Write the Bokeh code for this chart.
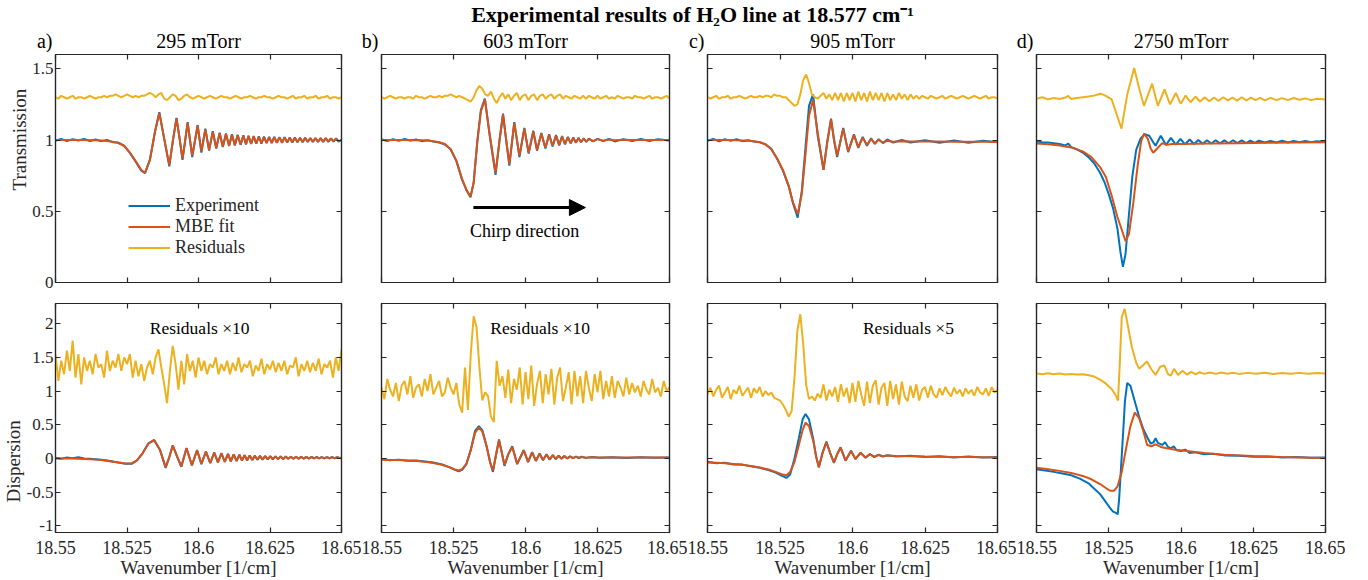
import numpy as np
from bokeh.plotting import figure
from bokeh.models import (Range1d, FixedTicker, LinearAxis, Label, Legend, LegendItem,
                          Arrow, NormalHead, Title)
from bokeh.layouts import column, row
from bokeh.embed import file_html
from bokeh.resources import INLINE

# ---------------- text ----------------
title_text = "Experimental results of H\u2082O line at 18.577 cm\u207B\u00B9"
panel_tags = ["a)", "b)", "c)", "d)"]
pressures = ["295 mTorr", "603 mTorr", "905 mTorr", "2750 mTorr"]
residual_notes = ["Residuals \u00D710", "Residuals \u00D710", "Residuals \u00D75", ""]
series_names = ["Experiment", "MBE fit", "Residuals"]
x_ticks = [18.55, 18.575, 18.6, 18.625, 18.65]
x_tick_labels = ["18.55", "18.525", "18.6", "18.625", "18.65"]
y_ticks_top = [0, 0.5, 1, 1.5]
y_tick_labels_top = ["0", "0.5", "1", "1.5"]
y_ticks_bot = [-1, -0.5, 0, 0.5, 1, 1.5, 2]
y_tick_labels_bot = ["-1", "-0.5", "0", "0.5", "1", "1.5", "2"]

# ---------------- data: uniform wavenumber grid for residuals ----------------
grid = np.linspace(18.55, 18.65, 101)

# ---- panel a (295 mTorr) transmission ----
x_Ta = [18.5500, 18.5520, 18.5540, 18.5560, 18.5580, 18.5600, 18.5620, 18.5640, 18.5660, 18.5680,
        18.5700, 18.5720, 18.5740, 18.5760, 18.5780, 18.5800, 18.5813, 18.5830, 18.5848, 18.5863,
        18.5880, 18.5898, 18.5910, 18.5923, 18.5934, 18.5944, 18.5953, 18.5962, 18.5978, 18.5997,
        18.6010, 18.6024, 18.6037, 18.6050, 18.6062, 18.6074, 18.6085, 18.6096, 18.6107, 18.6117,
        18.6127, 18.6137, 18.6147, 18.6157, 18.6166, 18.6175, 18.6184, 18.6193, 18.6202, 18.6211,
        18.6220, 18.6229, 18.6238, 18.6247, 18.6256, 18.6265, 18.6274, 18.6283, 18.6292, 18.6301,
        18.6310, 18.6319, 18.6328, 18.6337, 18.6346, 18.6355, 18.6364, 18.6373, 18.6382, 18.6391,
        18.6400, 18.6409, 18.6418, 18.6427, 18.6436, 18.6445, 18.6454, 18.6463, 18.6472, 18.6481,
        18.6490, 18.6500]
fit_Ta = [1.000, 1.000, 1.000, 1.000, 1.000, 1.000, 0.999, 0.998, 0.996, 0.993,
          0.988, 0.978, 0.958, 0.912, 0.852, 0.790, 0.770, 0.860, 1.060, 1.190,
          1.010, 0.825, 0.990, 1.150, 1.010, 0.870, 0.990, 1.120, 0.890, 1.100,
          0.920, 1.075, 0.930, 1.058, 0.945, 1.048, 0.955, 1.042, 0.960, 1.037,
          0.965, 1.033, 0.968, 1.030, 0.972, 1.028, 0.974, 1.025, 0.976, 1.023,
          0.978, 1.022, 0.980, 1.020, 0.981, 1.019, 0.982, 1.018, 0.983, 1.017,
          0.984, 1.016, 0.985, 1.015, 0.986, 1.014, 0.987, 1.013, 0.988, 1.012,
          0.988, 1.012, 0.989, 1.011, 0.989, 1.011, 0.990, 1.010, 0.990, 1.010,
          0.990, 1.000]
exp_Ta = [0.995, 1.008, 0.992, 1.006, 0.996, 1.008, 0.993, 1.004, 0.992, 1.000,
          0.985, 0.982, 0.960, 0.910, 0.850, 0.785, 0.768, 0.860, 1.060, 1.195,
          1.010, 0.815, 0.990, 1.155, 1.010, 0.860, 0.990, 1.125, 0.880, 1.105,
          0.912, 1.080, 0.925, 1.062, 0.940, 1.052, 0.950, 1.045, 0.957, 1.040,
          0.962, 1.036, 0.966, 1.033, 0.968, 1.030, 0.972, 1.028, 0.974, 1.026,
          0.975, 1.024, 0.978, 1.022, 0.979, 1.022, 0.980, 1.020, 0.981, 1.019,
          0.982, 1.018, 0.983, 1.017, 0.984, 1.016, 0.985, 1.015, 0.986, 1.014,
          0.986, 1.014, 0.986, 1.013, 0.987, 1.013, 0.987, 1.012, 0.988, 1.012,
          0.988, 1.000]
res_Ta = [1.30, 1.29, 1.31, 1.30, 1.29, 1.30, 1.31, 1.29, 1.30, 1.30,
          1.29, 1.30, 1.31, 1.30, 1.29, 1.30, 1.30, 1.31, 1.30, 1.31,
          1.31, 1.32, 1.31, 1.30, 1.31, 1.32, 1.31, 1.30, 1.31, 1.30,
          1.31, 1.31, 1.32, 1.33, 1.32, 1.30, 1.32, 1.33, 1.29, 1.28,
          1.30, 1.32, 1.31, 1.28, 1.29, 1.31, 1.32, 1.30, 1.29, 1.30,
          1.31, 1.30, 1.29, 1.30, 1.31, 1.30, 1.29, 1.30, 1.31, 1.30,
          1.30, 1.29, 1.30, 1.31, 1.30, 1.29, 1.30, 1.30, 1.31, 1.30,
          1.29, 1.30, 1.30, 1.31, 1.30, 1.30, 1.29, 1.30, 1.31, 1.30,
          1.30, 1.29, 1.30, 1.31, 1.29, 1.30, 1.30, 1.31, 1.29, 1.30,
          1.30, 1.31, 1.29, 1.30, 1.30, 1.31, 1.29, 1.30, 1.30, 1.29, 1.30]

# ---- panel a dispersion ----
x_Da = [18.5500, 18.5520, 18.5540, 18.5560, 18.5580, 18.5600, 18.5620, 18.5640, 18.5660, 18.5680,
        18.5700, 18.5720, 18.5745, 18.5766, 18.5785, 18.5805, 18.5825, 18.5845, 18.5865, 18.5885,
        18.5898, 18.5910, 18.5925, 18.5940, 18.5958, 18.5977, 18.5995, 18.6010, 18.6026, 18.6041,
        18.6055, 18.6068, 18.6080, 18.6092, 18.6103, 18.6113, 18.6123, 18.6133, 18.6143, 18.6152,
        18.6161, 18.6170, 18.6179, 18.6188, 18.6197, 18.6206, 18.6215, 18.6224, 18.6233, 18.6242,
        18.6251, 18.6260, 18.6269, 18.6278, 18.6287, 18.6296, 18.6305, 18.6314, 18.6323, 18.6332,
        18.6341, 18.6350, 18.6359, 18.6368, 18.6377, 18.6386, 18.6395, 18.6404, 18.6413, 18.6422,
        18.6431, 18.6440, 18.6449, 18.6458, 18.6467, 18.6476, 18.6485, 18.6494, 18.6500]
fit_Da = [0.000, 0.000, 0.000, -0.002, -0.004, -0.008, -0.012, -0.018, -0.025, -0.035,
          -0.048, -0.062, -0.075, -0.075, -0.030, 0.080, 0.220, 0.270, 0.130, -0.130,
          0.020, 0.190, 0.030, -0.120, 0.150, -0.100, 0.120, -0.080, 0.100, -0.068,
          0.085, -0.058, 0.075, -0.050, 0.066, -0.043, 0.058, -0.037, 0.052, -0.031,
          0.047, -0.027, 0.043, -0.023, 0.039, -0.019, 0.036, -0.016, 0.033, -0.013,
          0.031, -0.011, 0.029, -0.009, 0.027, -0.007, 0.026, -0.005, 0.025, -0.004,
          0.024, -0.003, 0.023, -0.002, 0.022, -0.001, 0.021, 0.000, 0.020, 0.001,
          0.019, 0.002, 0.019, 0.003, 0.018, 0.004, 0.017, 0.005, 0.010]
exp_Da = [0.010, -0.005, 0.012, 0.004, 0.018, 0.000, -0.004, -0.012, -0.020, -0.030,
          -0.045, -0.060, -0.078, -0.080, -0.030, 0.080, 0.225, 0.275, 0.130, -0.140,
          0.020, 0.195, 0.030, -0.125, 0.155, -0.105, 0.125, -0.085, 0.102, -0.070,
          0.088, -0.060, 0.078, -0.052, 0.068, -0.045, 0.060, -0.040, 0.054, -0.033,
          0.048, -0.028, 0.044, -0.024, 0.040, -0.020, 0.037, -0.017, 0.034, -0.014,
          0.032, -0.012, 0.030, -0.010, 0.028, -0.008, 0.027, -0.006, 0.026, -0.005,
          0.025, -0.004, 0.024, -0.003, 0.023, -0.002, 0.022, -0.001, 0.021, 0.000,
          0.020, 0.001, 0.020, 0.002, 0.019, 0.003, 0.018, 0.004, 0.012]
res_Da = [1.55, 1.15, 1.45, 1.25, 1.60, 1.30, 1.75, 1.20, 1.55, 1.10,
          1.50, 1.30, 1.45, 1.25, 1.55, 1.35, 1.40, 1.20, 1.60, 1.30,
          1.45, 1.35, 1.55, 1.30, 1.50, 1.40, 1.55, 1.20, 1.45, 1.22,
          1.40, 1.15, 1.35, 1.45, 1.25, 1.50, 1.62, 1.35, 1.10, 0.82,
          1.30, 1.67, 1.40, 1.02, 1.45, 1.10, 1.55, 1.30, 1.45, 1.20,
          1.50, 1.30, 1.45, 1.25, 1.40, 1.35, 1.50, 1.25, 1.40, 1.30,
          1.45, 1.25, 1.42, 1.30, 1.50, 1.28, 1.40, 1.35, 1.45, 1.22,
          1.38, 1.30, 1.48, 1.25, 1.40, 1.32, 1.45, 1.28, 1.42, 1.30,
          1.45, 1.25, 1.38, 1.35, 1.50, 1.22, 1.40, 1.30, 1.45, 1.28,
          1.42, 1.30, 1.48, 1.25, 1.40, 1.35, 1.45, 1.20, 1.50, 1.30, 1.62]

# ---- panel b (603 mTorr) transmission ----
x_Tb = [18.5500, 18.5520, 18.5540, 18.5560, 18.5580, 18.5600, 18.5620, 18.5640, 18.5660, 18.5680,
        18.5700, 18.5720, 18.5740, 18.5760, 18.5780, 18.5795, 18.5809, 18.5820, 18.5833, 18.5845,
        18.5859, 18.5875, 18.5896, 18.5910, 18.5922, 18.5933, 18.5944, 18.5961, 18.5979, 18.5996,
        18.6011, 18.6027, 18.6040, 18.6055, 18.6069, 18.6082, 18.6094, 18.6106, 18.6117, 18.6127,
        18.6137, 18.6147, 18.6157, 18.6166, 18.6175, 18.6184, 18.6193, 18.6202, 18.6211, 18.6220,
        18.6235, 18.6250, 18.6270, 18.6290, 18.6310, 18.6340, 18.6370, 18.6400, 18.6430, 18.6460,
        18.6500]
fit_Tb = [1.000, 1.000, 1.000, 1.000, 1.000, 0.999, 0.999, 0.998, 0.997, 0.992,
          0.985, 0.972, 0.935, 0.855, 0.725, 0.650, 0.603, 0.700, 0.990, 1.200,
          1.285, 1.050, 0.770, 1.000, 1.180, 1.000, 0.830, 1.120, 0.890, 1.080,
          0.910, 1.060, 0.930, 1.045, 0.945, 1.036, 0.958, 1.030, 0.966, 1.024,
          0.972, 1.019, 0.978, 1.015, 0.983, 1.012, 0.986, 1.010, 0.989, 1.008,
          0.992, 1.006, 0.995, 1.003, 0.998, 1.001, 1.000, 1.000, 1.000, 1.000,
          1.000]
exp_Tb = [1.005, 0.992, 1.006, 0.994, 1.008, 0.996, 1.004, 0.992, 0.999, 0.990,
          0.982, 0.968, 0.935, 0.852, 0.720, 0.648, 0.598, 0.700, 1.000, 1.210,
          1.290, 1.040, 0.755, 1.000, 1.185, 0.995, 0.820, 1.125, 0.880, 1.085,
          0.905, 1.065, 0.925, 1.050, 0.940, 1.040, 0.955, 1.034, 0.962, 1.028,
          0.970, 1.022, 0.976, 1.018, 0.980, 1.015, 0.984, 1.012, 0.986, 1.010,
          0.990, 1.008, 0.992, 1.008, 0.990, 1.006, 0.992, 1.007, 0.993, 1.006,
          0.996]
res_Tb = [1.30, 1.29, 1.30, 1.31, 1.30, 1.29, 1.30, 1.30, 1.29, 1.30,
          1.30, 1.29, 1.31, 1.30, 1.30, 1.29, 1.30, 1.31, 1.30, 1.30,
          1.31, 1.30, 1.31, 1.31, 1.32, 1.31, 1.30, 1.31, 1.30, 1.29,
          1.28, 1.27, 1.30, 1.35, 1.38, 1.36, 1.32, 1.31, 1.34, 1.29,
          1.26, 1.30, 1.33, 1.29, 1.32, 1.28, 1.31, 1.33, 1.28, 1.31,
          1.32, 1.28, 1.31, 1.32, 1.28, 1.31, 1.32, 1.29, 1.31, 1.32,
          1.29, 1.31, 1.32, 1.29, 1.31, 1.30, 1.29, 1.31, 1.30, 1.29,
          1.31, 1.29, 1.31, 1.30, 1.29, 1.31, 1.29, 1.30, 1.31, 1.29,
          1.30, 1.29, 1.31, 1.30, 1.29, 1.30, 1.30, 1.29, 1.31, 1.30,
          1.30, 1.29, 1.30, 1.31, 1.29, 1.30, 1.30, 1.29, 1.30, 1.31, 1.29]

# ---- panel b dispersion ----
x_Db = [18.5500, 18.5530, 18.5560, 18.5590, 18.5620, 18.5650, 18.5680, 18.5710, 18.5735, 18.5755,
        18.5768, 18.5780, 18.5795, 18.5810, 18.5825, 18.5838, 18.5850, 18.5865, 18.5877, 18.5887,
        18.5897, 18.5908, 18.5918, 18.5927, 18.5940, 18.5954, 18.5971, 18.5994, 18.6009, 18.6023,
        18.6036, 18.6049, 18.6061, 18.6073, 18.6084, 18.6095, 18.6105, 18.6115, 18.6125, 18.6135,
        18.6145, 18.6155, 18.6165, 18.6175, 18.6185, 18.6195, 18.6210, 18.6230, 18.6260, 18.6300,
        18.6350, 18.6400, 18.6450, 18.6500]
fit_Db = [-0.020, -0.022, -0.025, -0.030, -0.038, -0.050, -0.068, -0.095, -0.130, -0.165,
          -0.180, -0.160, -0.080, 0.120, 0.380, 0.460, 0.400, 0.180, -0.050, -0.180,
          0.040, 0.270, 0.080, -0.100, 0.060, 0.170, -0.080, 0.120, -0.050, 0.090,
          -0.035, 0.070, -0.025, 0.058, -0.015, 0.048, -0.008, 0.040, -0.003, 0.034,
          0.002, 0.028, 0.005, 0.024, 0.008, 0.020, 0.010, 0.016, 0.012, 0.013,
          0.012, 0.012, 0.012, 0.012]
exp_Db = [-0.010, -0.028, -0.018, -0.035, -0.030, -0.045, -0.062, -0.090, -0.130, -0.170,
          -0.190, -0.170, -0.080, 0.130, 0.410, 0.480, 0.420, 0.180, -0.060, -0.200,
          0.040, 0.280, 0.080, -0.110, 0.060, 0.180, -0.085, 0.125, -0.055, 0.095,
          -0.038, 0.072, -0.028, 0.060, -0.018, 0.050, -0.010, 0.042, -0.005, 0.036,
          0.000, 0.030, 0.004, 0.026, 0.006, 0.024, 0.008, 0.020, 0.008, 0.018,
          0.006, 0.016, 0.008, 0.014]
res_Db = [1.05, 0.88, 1.18, 1.02, 0.92, 1.12, 0.85, 1.08, 1.15, 0.95,
          1.22, 0.90, 1.05, 1.10, 0.92, 1.18, 1.00, 1.25, 0.95, 1.05,
          1.15, 0.92, 0.98, 1.20, 1.05, 0.95, 1.12, 0.80, 0.68, 1.35,
          0.72, 1.55, 2.11, 1.95, 1.35, 0.86, 0.98, 0.92, 0.62, 0.54,
          1.45, 1.08, 1.22, 0.90, 1.32, 0.82, 1.18, 1.02, 1.35, 0.80,
          1.28, 0.88, 1.38, 0.78, 1.10, 1.30, 0.82, 1.25, 0.95, 1.33,
          0.80, 1.20, 1.35, 0.85, 1.05, 1.28, 0.80, 1.30, 0.92, 1.22,
          0.82, 1.30, 1.05, 0.85, 1.25, 0.98, 1.30, 0.88, 1.15, 0.92,
          1.22, 0.90, 1.15, 1.05, 0.92, 1.20, 0.95, 1.12, 0.98, 1.08,
          0.92, 1.15, 1.02, 0.95, 1.18, 0.98, 1.05, 0.92, 1.15, 1.00, 1.05]

# ---- panel c (905 mTorr) transmission ----
x_Tc = [18.5500, 18.5520, 18.5540, 18.5560, 18.5580, 18.5600, 18.5620, 18.5640, 18.5660, 18.5680,
        18.5700, 18.5720, 18.5740, 18.5760, 18.5780, 18.5795, 18.5811, 18.5825, 18.5838, 18.5850,
        18.5864, 18.5880, 18.5900, 18.5913, 18.5926, 18.5936, 18.5947, 18.5968, 18.5985, 18.6005,
        18.6020, 18.6035, 18.6050, 18.6064, 18.6077, 18.6090, 18.6105, 18.6120, 18.6140, 18.6170,
        18.6200, 18.6250, 18.6300, 18.6350, 18.6400, 18.6450, 18.6500]
fit_Tc = [1.000, 1.000, 1.000, 1.000, 1.000, 0.998, 0.997, 0.995, 0.992, 0.985,
          0.968, 0.935, 0.870, 0.790, 0.680, 0.560, 0.480, 0.620, 0.900, 1.170,
          1.280, 1.050, 0.790, 0.980, 1.145, 1.010, 0.890, 1.080, 0.920, 1.035,
          0.950, 1.016, 0.965, 1.008, 0.975, 1.002, 0.982, 0.995, 0.988, 0.991,
          0.990, 0.990, 0.989, 0.988, 0.987, 0.987, 0.986]
exp_Tc = [0.995, 1.008, 0.990, 1.006, 0.994, 1.006, 0.992, 0.998, 0.990, 0.984,
          0.970, 0.938, 0.868, 0.785, 0.675, 0.555, 0.455, 0.640, 0.950, 1.240,
          1.320, 1.030, 0.790, 0.990, 1.150, 1.000, 0.880, 1.085, 0.915, 1.040,
          0.945, 1.022, 0.960, 1.012, 0.972, 1.006, 0.978, 1.004, 0.982, 1.000,
          0.982, 0.998, 0.980, 0.996, 0.980, 0.994, 0.984]
res_Tc = [1.30, 1.29, 1.30, 1.31, 1.29, 1.30, 1.30, 1.31, 1.29, 1.30,
          1.30, 1.31, 1.30, 1.29, 1.30, 1.31, 1.30, 1.30, 1.31, 1.30,
          1.31, 1.31, 1.30, 1.32, 1.31, 1.31, 1.30, 1.30, 1.28, 1.26,
          1.24, 1.25, 1.32, 1.42, 1.46, 1.40, 1.32, 1.30, 1.29, 1.31,
          1.33, 1.29, 1.32, 1.28, 1.33, 1.28, 1.33, 1.27, 1.33, 1.28,
          1.33, 1.27, 1.34, 1.28, 1.33, 1.27, 1.34, 1.28, 1.33, 1.28,
          1.33, 1.27, 1.33, 1.28, 1.32, 1.28, 1.33, 1.29, 1.32, 1.28,
          1.32, 1.29, 1.31, 1.29, 1.31, 1.30, 1.29, 1.31, 1.30, 1.29,
          1.30, 1.31, 1.29, 1.30, 1.31, 1.30, 1.29, 1.30, 1.31, 1.30,
          1.29, 1.30, 1.31, 1.30, 1.29, 1.30, 1.31, 1.29, 1.30, 1.30, 1.29]

# ---- panel c dispersion ----
x_Dc = [18.5500, 18.5530, 18.5560, 18.5590, 18.5620, 18.5650, 18.5680, 18.5710, 18.5735, 18.5755,
        18.5772, 18.5785, 18.5800, 18.5815, 18.5828, 18.5838, 18.5850, 18.5865, 18.5875, 18.5884,
        18.5897, 18.5910, 18.5923, 18.5936, 18.5948, 18.5959, 18.5976, 18.5995, 18.6010, 18.6028,
        18.6045, 18.6060, 18.6075, 18.6090, 18.6105, 18.6120, 18.6150, 18.6200, 18.6250, 18.6300,
        18.6350, 18.6400, 18.6450, 18.6500]
fit_Dc = [-0.060, -0.065, -0.072, -0.082, -0.095, -0.112, -0.135, -0.165, -0.200, -0.235,
          -0.250, -0.200, -0.050, 0.200, 0.420, 0.530, 0.480, 0.250, 0.020, -0.130,
          0.080, 0.240, 0.080, -0.060, 0.070, 0.160, -0.030, 0.110, -0.005, 0.080,
          0.015, 0.060, 0.025, 0.050, 0.030, 0.042, 0.035, 0.032, 0.028, 0.025,
          0.022, 0.020, 0.018, 0.015]
exp_Dc = [-0.050, -0.072, -0.066, -0.090, -0.092, -0.118, -0.140, -0.172, -0.210, -0.255,
          -0.290, -0.240, 0.000, 0.300, 0.580, 0.660, 0.580, 0.280, 0.020, -0.130,
          0.090, 0.250, 0.080, -0.065, 0.070, 0.165, -0.035, 0.115, -0.010, 0.085,
          0.010, 0.065, 0.020, 0.055, 0.028, 0.048, 0.028, 0.040, 0.022, 0.032,
          0.015, 0.028, 0.012, 0.020]
res_Dc = [0.95, 1.05, 0.92, 1.02, 1.08, 0.90, 0.98, 1.06, 0.88, 1.02,
          0.96, 1.08, 0.93, 0.99, 1.05, 0.90, 1.04, 0.97, 1.06, 0.92,
          1.00, 0.94, 0.98, 0.90, 0.88, 0.86, 0.80, 0.72, 0.62, 0.70,
          1.20, 1.90, 2.14, 1.70, 1.10, 0.88, 0.92, 0.86, 0.96, 0.90,
          1.10, 0.86, 1.02, 0.92, 1.06, 0.84, 1.10, 0.92, 1.05, 0.82,
          1.12, 0.84, 1.15, 0.95, 0.78, 1.14, 0.82, 1.08, 1.16, 0.80,
          1.05, 1.12, 0.78, 1.15, 0.88, 1.10, 0.80, 1.14, 0.92, 0.85,
          1.08, 0.90, 1.10, 0.86, 1.02, 1.06, 0.90, 1.08, 0.95, 0.90,
          1.04, 0.94, 1.06, 0.98, 0.92, 1.05, 0.96, 1.02, 0.92, 1.04,
          0.96, 1.02, 0.93, 1.06, 0.98, 0.95, 1.04, 0.93, 1.06, 0.98, 1.02]

# ---- panel d (2750 mTorr) transmission ----
x_Td_exp = [18.5500, 18.5520, 18.5540, 18.5560, 18.5580, 18.5600, 18.5610, 18.5620, 18.5640, 18.5660,
            18.5680, 18.5700, 18.5720, 18.5735, 18.5750, 18.5765, 18.5780, 18.5790, 18.5799, 18.5808,
            18.5820, 18.5832, 18.5845, 18.5860, 18.5875, 18.5890, 18.5905, 18.5912, 18.5930, 18.5948,
            18.5965, 18.5982, 18.5998, 18.6014, 18.6030, 18.6045, 18.6060, 18.6075, 18.6090, 18.6105,
            18.6120, 18.6135, 18.6150, 18.6165, 18.6180, 18.6195, 18.6210, 18.6225, 18.6240, 18.6255,
            18.6270, 18.6290, 18.6310, 18.6330, 18.6350, 18.6370, 18.6390, 18.6410, 18.6430, 18.6450,
            18.6470, 18.6500]
exp_Td = [0.990, 0.985, 0.982, 0.978, 0.972, 0.962, 0.975, 0.950, 0.935, 0.912,
          0.880, 0.835, 0.770, 0.705, 0.620, 0.520, 0.380, 0.220, 0.110, 0.200,
          0.480, 0.750, 0.930, 1.010, 1.040, 1.030, 0.980, 0.960, 1.030, 0.965,
          1.015, 0.968, 1.008, 0.970, 1.003, 0.972, 1.000, 0.973, 0.998, 0.975,
          0.998, 0.976, 0.997, 0.977, 0.998, 0.978, 0.997, 0.978, 0.996, 0.980,
          0.995, 0.982, 0.994, 0.982, 0.995, 0.983, 0.993, 0.984, 0.994, 0.985,
          0.992, 0.986]
x_Td_fit = [18.5500, 18.5540, 18.5580, 18.5620, 18.5660, 18.5690, 18.5720, 18.5740, 18.5760, 18.5780,
            18.5795, 18.5808, 18.5820, 18.5835, 18.5850, 18.5862, 18.5872, 18.5885, 18.5895, 18.5904,
            18.5915, 18.5935, 18.5950, 18.5970, 18.6000, 18.6100, 18.6200, 18.6300, 18.6400, 18.6500]
fit_Td = [0.975, 0.970, 0.962, 0.948, 0.920, 0.880, 0.810, 0.740, 0.610, 0.460,
          0.370, 0.290, 0.340, 0.560, 0.820, 0.990, 1.045, 1.010, 0.940, 0.910,
          0.935, 0.978, 0.966, 0.972, 0.972, 0.975, 0.978, 0.980, 0.982, 0.984]
x_Rd_top = [18.5500, 18.5520, 18.5540, 18.5560, 18.5580, 18.5600, 18.5610, 18.5620, 18.5640, 18.5660,
            18.5680, 18.5700, 18.5722, 18.5740, 18.5760, 18.5779, 18.5794, 18.5814, 18.5838, 18.5858,
            18.5872, 18.5900, 18.5920, 18.5943, 18.5962, 18.5982, 18.5999, 18.6016, 18.6033, 18.6050,
            18.6066, 18.6082, 18.6098, 18.6114, 18.6130, 18.6146, 18.6162, 18.6178, 18.6194, 18.6210,
            18.6226, 18.6242, 18.6258, 18.6274, 18.6290, 18.6310, 18.6330, 18.6350, 18.6370, 18.6390,
            18.6410, 18.6430, 18.6450, 18.6470, 18.6500]
res_Td = [1.290, 1.300, 1.285, 1.295, 1.288, 1.298, 1.310, 1.288, 1.295, 1.300,
          1.305, 1.312, 1.325, 1.310, 1.285, 1.170, 1.080, 1.320, 1.505, 1.340,
          1.240, 1.395, 1.240, 1.355, 1.250, 1.330, 1.255, 1.312, 1.265, 1.305,
          1.270, 1.300, 1.272, 1.298, 1.275, 1.300, 1.278, 1.298, 1.276, 1.300,
          1.278, 1.298, 1.280, 1.296, 1.278, 1.296, 1.280, 1.294, 1.280, 1.295,
          1.282, 1.292, 1.280, 1.290, 1.285]

# ---- panel d dispersion ----
x_Dd_exp = [18.5500, 18.5530, 18.5560, 18.5590, 18.5620, 18.5650, 18.5680, 18.5700, 18.5720, 18.5740,
            18.5755, 18.5765, 18.5775, 18.5781, 18.5786, 18.5793, 18.5800, 18.5806, 18.5814, 18.5825,
            18.5840, 18.5855, 18.5870, 18.5885, 18.5895, 18.5905, 18.5912, 18.5920, 18.5935, 18.5945,
            18.5955, 18.5965, 18.5975, 18.5985, 18.6000, 18.6015, 18.6030, 18.6050, 18.6080, 18.6110,
            18.6150, 18.6200, 18.6250, 18.6300, 18.6350, 18.6400, 18.6450, 18.6500]
exp_Dd = [-0.160, -0.180, -0.200, -0.225, -0.250, -0.300, -0.370, -0.450, -0.530, -0.650,
          -0.740, -0.790, -0.810, -0.830, -0.600, -0.100, 0.400, 0.850, 1.120, 1.080,
          0.850, 0.620, 0.430, 0.300, 0.220, 0.240, 0.300, 0.230, 0.200, 0.240,
          0.170, 0.150, 0.180, 0.120, 0.110, 0.130, 0.080, 0.090, 0.060, 0.070,
          0.045, 0.040, 0.025, 0.030, 0.015, 0.020, 0.010, 0.012]
x_Dd_fit = [18.5500, 18.5540, 18.5580, 18.5620, 18.5660, 18.5690, 18.5720, 18.5740, 18.5755, 18.5768,
            18.5780, 18.5795, 18.5810, 18.5825, 18.5840, 18.5855, 18.5870, 18.5883, 18.5898, 18.5912,
            18.5930, 18.5950, 18.5980, 18.6020, 18.6080, 18.6150, 18.6250, 18.6350, 18.6450, 18.6500]
fit_Dd = [-0.140, -0.160, -0.185, -0.215, -0.260, -0.310, -0.380, -0.440, -0.480, -0.480,
          -0.420, -0.200, 0.150, 0.480, 0.680, 0.600, 0.400, 0.200, 0.180, 0.210,
          0.170, 0.150, 0.130, 0.110, 0.080, 0.055, 0.035, 0.020, 0.010, 0.005]
x_Rd_bot = [18.5500, 18.5520, 18.5540, 18.5560, 18.5580, 18.5600, 18.5620, 18.5640, 18.5660, 18.5680,
            18.5700, 18.5720, 18.5740, 18.5760, 18.5775, 18.5782, 18.5787, 18.5795, 18.5805, 18.5815,
            18.5830, 18.5845, 18.5855, 18.5868, 18.5882, 18.5898, 18.5912, 18.5928, 18.5942, 18.5955,
            18.5965, 18.5976, 18.5990, 18.6005, 18.6020, 18.6035, 18.6050, 18.6065, 18.6080, 18.6100,
            18.6120, 18.6140, 18.6160, 18.6180, 18.6200, 18.6230, 18.6260, 18.6290, 18.6320, 18.6350,
            18.6380, 18.6410, 18.6440, 18.6470, 18.6500]
res_Dd = [1.260, 1.250, 1.265, 1.250, 1.260, 1.245, 1.255, 1.245, 1.250, 1.235,
          1.215, 1.170, 1.110, 1.030, 0.930, 0.860, 1.300, 2.100, 2.220, 2.000,
          1.650, 1.420, 1.330, 1.380, 1.440, 1.320, 1.240, 1.360, 1.380, 1.250,
          1.230, 1.330, 1.240, 1.300, 1.245, 1.285, 1.250, 1.280, 1.255, 1.275,
          1.255, 1.275, 1.258, 1.272, 1.255, 1.270, 1.258, 1.272, 1.255, 1.268,
          1.258, 1.270, 1.258, 1.268, 1.262]

top_panels = [
    (x_Ta, exp_Ta, x_Ta, fit_Ta, grid, res_Ta),
    (x_Tb, exp_Tb, x_Tb, fit_Tb, grid, res_Tb),
    (x_Tc, exp_Tc, x_Tc, fit_Tc, grid, res_Tc),
    (x_Td_exp, exp_Td, x_Td_fit, fit_Td, x_Rd_top, res_Td),
]
bot_panels = [
    (x_Da, exp_Da, x_Da, fit_Da, grid, res_Da),
    (x_Db, exp_Db, x_Db, fit_Db, grid, res_Db),
    (x_Dc, exp_Dc, x_Dc, fit_Dc, grid, res_Dc),
    (x_Dd_exp, exp_Dd, x_Dd_fit, fit_Dd, x_Rd_bot, res_Dd),
]

# ---------------- styling / layout ----------------
BLUE, ORANGE, YELLOW = "#0072BD", "#D95319", "#EDB120"
FONT = "Liberation Serif"
AX = "#262626"
FRAME_W = [286, 288, 290, 289]
BORDER_L = [55, 20, 20, 20]
BORDER_R = [20, 18, 19, 20]
HEAD_H = 52          # height of the heading strip (title, tags, pressures)
BASE_FIX = 6         # svg 'alphabetic' labels land this many px low; lift them
XMIN, XMAX = 18.55, 18.65

frame_left = []
acc = 0
for ci in range(4):
    frame_left.append(acc + BORDER_L[ci])
    acc += BORDER_L[ci] + FRAME_W[ci] + BORDER_R[ci]
TOTAL_W = acc


def add_axis(p, side, ticks, labels, show):
    ax = LinearAxis(
        ticker=FixedTicker(ticks=ticks),
        major_label_overrides={float(t): l for t, l in zip(ticks, labels)},
        major_tick_in=5, major_tick_out=0, minor_tick_in=0, minor_tick_out=0,
        axis_line_color=AX, axis_line_width=1.2,
        major_tick_line_color=AX, major_tick_line_width=1.2,
        major_label_text_font=FONT,
        major_label_text_color=AX if show else None,
        major_label_text_font_size=("17px" if side == "left" else "18px") if show else "1px",
        major_label_standoff=(2 if side == "left" else 8) if show else 0,
    )
    p.add_layout(ax, side)
    return ax


def make_fig(ci, top):
    p = figure(
        title=None,
        frame_width=FRAME_W[ci], frame_height=228 if top else 229,
        x_range=Range1d(XMIN, XMAX),
        y_range=Range1d(0, 1.6) if top else Range1d(-1.1, 2.3),
        toolbar_location=None, output_backend="svg",
        min_border_left=BORDER_L[ci], min_border_right=BORDER_R[ci],
        min_border_top=2 if top else 11, min_border_bottom=10 if top else 0,
        x_axis_location=None, y_axis_location=None,
    )
    p.xgrid.visible = False
    p.ygrid.visible = False
    p.outline_line_color = AX
    p.outline_line_width = 1.2
    yt, yl = (y_ticks_top, y_tick_labels_top) if top else (y_ticks_bot, y_tick_labels_bot)
    add_axis(p, "left", yt, yl, ci == 0)
    add_axis(p, "right", yt, yl, False)
    add_axis(p, "above", x_ticks, x_tick_labels, False)
    bx = add_axis(p, "below", x_ticks, x_tick_labels, not top)
    if not top:
        bx.axis_label = "Wavenumber [1/cm]"
        bx.axis_label_text_font = FONT
        bx.axis_label_text_font_size = "19px"
        bx.axis_label_text_font_style = "normal"
        bx.axis_label_text_color = AX
        bx.axis_label_standoff = 0
    return p


top_figs, bot_figs = [], []
legend_renderers = None
for ci in range(4):
    xe, ye, xf, yf, xr, yr = top_panels[ci]
    p = make_fig(ci, True)
    r1 = p.line(xe, ye, line_color=BLUE, line_width=2)
    r2 = p.line(xf, yf, line_color=ORANGE, line_width=2)
    r3 = p.line(xr, yr, line_color=YELLOW, line_width=2)
    if ci == 0:
        legend_renderers = (r1, r2, r3)
    top_figs.append(p)

    xe, ye, xf, yf, xr, yr = bot_panels[ci]
    q = make_fig(ci, False)
    q.line(xe, ye, line_color=BLUE, line_width=2)
    q.line(xf, yf, line_color=ORANGE, line_width=2)
    q.line(xr, yr, line_color=YELLOW, line_width=2)
    bot_figs.append(q)

# y-axis titles, placed (as in the original) around y=1 and y=0 rather than frame centre
top_figs[0].add_layout(Title(text="Transmission", align="left", offset=92, standoff=0,
                             text_font=FONT, text_font_size="19px", text_font_style="normal",
                             text_color=AX), "left")
bot_figs[0].add_layout(Title(text="Dispersion", align="left", offset=30, standoff=0,
                             text_font=FONT, text_font_size="19px", text_font_style="normal",
                             text_color=AX), "left")

# legend in panel a
legend = Legend(
    items=[LegendItem(label=n, renderers=[r]) for n, r in zip(series_names, legend_renderers)],
    location=(73, 24), orientation="vertical",
    label_text_font=FONT, label_text_font_size="18px", label_text_color=AX,
    glyph_width=42, glyph_height=21, label_height=21, label_standoff=5,
    spacing=0, padding=0, margin=0,
    border_line_alpha=0, background_fill_alpha=0,
)
top_figs[0].add_layout(legend)

# chirp direction arrow in panel b
top_figs[1].add_layout(Arrow(x_start=18.5819, y_start=0.526, x_end=18.6208, y_end=0.526,
                             line_width=3, line_color="black",
                             end=NormalHead(size=16, fill_color="black", line_color="black")))
top_figs[1].add_layout(Label(x=18.5997, y=0.318, y_offset=BASE_FIX, text="Chirp direction",
                             text_align="center", text_baseline="alphabetic", text_font=FONT,
                             text_font_size="18px", text_color="black"))

# residual scale notes
note_x = [18.6004, 18.6051, 18.6193]
for ci in range(3):
    bot_figs[ci].add_layout(Label(x=note_x[ci], y=2.3, y_offset=-30 + BASE_FIX,
                                  text=residual_notes[ci],
                                  text_align="center", text_baseline="alphabetic",
                                  text_font=FONT, text_font_size="17.5px", text_color="black"))

# heading strip: overall title, panel tags and pressures (page-pixel coordinates)
head = figure(title=None, width=TOTAL_W, height=HEAD_H, x_range=Range1d(0, TOTAL_W),
              y_range=Range1d(HEAD_H, 0), toolbar_location=None, output_backend="svg",
              min_border=0, x_axis_location=None, y_axis_location=None)
head.xgrid.visible = False
head.ygrid.visible = False
head.outline_line_color = None
head.add_layout(Label(x=692, y=19.5 - BASE_FIX, text=title_text, text_align="center",
                      text_baseline="alphabetic", text_font=FONT, text_font_size="22px",
                      text_font_style="bold", text_color="black"))
for ci in range(4):
    head.add_layout(Label(x=frame_left[ci] - 3, y=46 - BASE_FIX, text=panel_tags[ci],
                          text_align="right", text_baseline="alphabetic", text_font=FONT,
                          text_font_size="20px", text_color="black"))
    head.add_layout(Label(x=frame_left[ci] + FRAME_W[ci] / 2, y=46 - BASE_FIX,
                          text=pressures[ci], text_align="center", text_baseline="alphabetic",
                          text_font=FONT, text_font_size="20px", text_color="black"))

# one column per panel pair keeps top and bottom frames aligned
layout = column(head, row(*[column(top_figs[ci], bot_figs[ci]) for ci in range(4)]))

with open("out.html", "w") as f:
    f.write(file_html(layout, INLINE))
